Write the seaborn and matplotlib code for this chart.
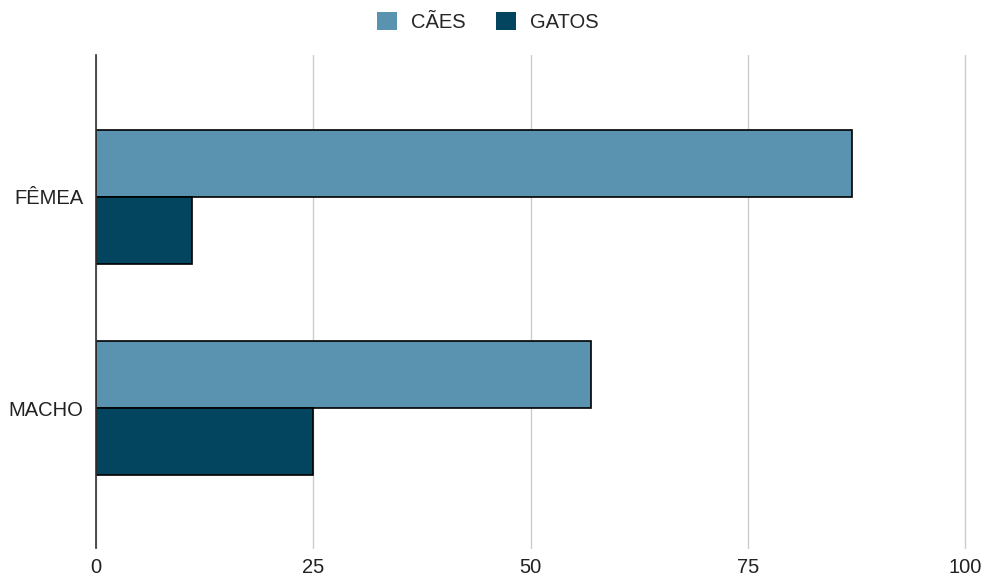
import pandas as pd
import seaborn as sns
import matplotlib.pyplot as plt

# Data
sexos = ["FÊMEA", "MACHO"]
caes = [87, 57]
gatos = [11, 25]
series = ["CÃES", "GATOS"]
cores = ["#5a93b0", "#03455f"]

df = pd.DataFrame({
    "sexo": sexos * 2,
    "valor": caes + gatos,
    "animal": [series[0]] * len(sexos) + [series[1]] * len(sexos),
})

sns.set_style("white")
plt.rcParams["font.family"] = ["Liberation Sans", "DejaVu Sans"]

fig = plt.figure(figsize=(9.85, 5.78), dpi=100)
ax = fig.add_axes([0.0975, 0.052, 0.8822, 0.853])

sns.barplot(
    data=df, y="sexo", x="valor", hue="animal",
    palette=cores, orient="h", width=0.635, saturation=1,
    edgecolor="black", linewidth=1.2, ax=ax,
)

ax.set_xlim(0, 100)
ax.set_xticks([0, 25, 50, 75, 100])
ax.grid(axis="x", color="#cccccc", linewidth=1)
for gl in ax.get_xgridlines():
    gl.set_clip_on(False)
ax.set_axisbelow(True)
for s in ["top", "right", "bottom"]:
    ax.spines[s].set_visible(False)
ax.spines["left"].set_color("#333333")
ax.spines["left"].set_linewidth(1.2)
ax.spines["left"].set_zorder(5)
ax.set_xlabel("")
ax.set_ylabel("")
ax.tick_params(axis="x", length=0, labelsize=14.5, colors="#222222", pad=7)
ax.tick_params(axis="y", length=0, labelsize=14.5, colors="#222222", pad=9)
ax.set_ylim(1.663, -0.673)

handles, labels = ax.get_legend_handles_labels()
ax.get_legend().remove()
leg = fig.legend(
    handles, labels, loc="center", bbox_to_anchor=(0.495, 0.962),
    ncol=2, frameon=False, fontsize=14.5, handlelength=1.0, handleheight=1.0,
    columnspacing=1.5, handletextpad=0.7,
)
for h in leg.legend_handles:
    h.set_edgecolor("none")

fig.savefig("out.png", dpi=100)
